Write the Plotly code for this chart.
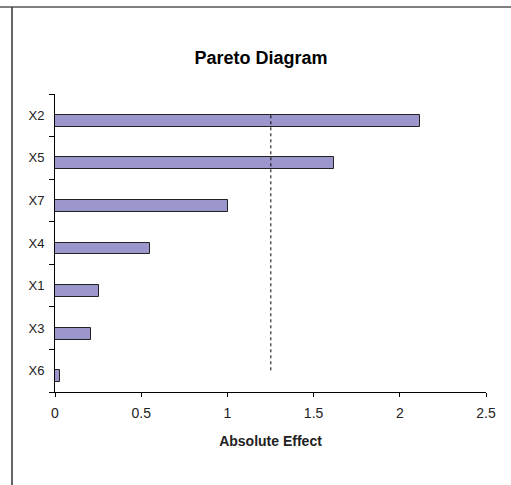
import plotly.graph_objects as go

factors = ["X2", "X5", "X7", "X4", "X1", "X3", "X6"]
effects = [2.118, 1.617, 1.003, 0.551, 0.255, 0.209, 0.027]
cutoff = 1.252
x_ticks = [0, 0.5, 1, 1.5, 2, 2.5]
x_tick_text = ["0", "0.5", "1", "1.5", "2", "2.5"]

order_bottom_up = factors[::-1]

fig = go.Figure()
fig.add_trace(go.Bar(
    y=factors, x=effects, orientation="h",
    marker=dict(color="#9b96cb", line=dict(color="#222222", width=1)),
    width=0.28, offset=-0.27, showlegend=False, hoverinfo="x+y",
))
fig.add_trace(go.Scatter(
    y=[factors[0], factors[-1]], x=[cutoff, cutoff], mode="lines",
    line=dict(color="black", width=1, dash="3px,3px"), showlegend=False,
))

font = "Liberation Sans, Arial, sans-serif"
W, H = 511, 485
L, R, T, B = 55, 25, 94, 93
pw, ph = W - L - R, H - T - B
fig.update_layout(
    width=W, height=H,
    margin=dict(l=L, r=R, t=T, b=B, autoexpand=False),
    paper_bgcolor="white", plot_bgcolor="white",
    title=dict(text="<b>Pareto Diagram</b>", x=261 / W, xanchor="center",
               y=1 - 58 / H, yanchor="middle",
               font=dict(family=font, size=18, color="black")),
    font=dict(family=font, size=13, color="#222222"),
    bargap=0,
    xaxis=dict(range=[0, 2.5], tickvals=x_ticks, ticktext=x_tick_text,
               showgrid=False, zeroline=False, showline=True, linecolor="black",
               linewidth=1, ticks="outside", ticklen=4, tickcolor="black",
               tickfont=dict(size=14), ticklabelstandoff=4,
               automargin=False,
               title=dict(text="<b>Absolute Effect</b>", standoff=16,
                          font=dict(family=font, size=14, color="#222222"))),
    yaxis=dict(type="category", categoryorder="array", categoryarray=order_bottom_up,
               range=[-0.5, 6.5], showgrid=False, zeroline=False, showline=True,
               linecolor="black", linewidth=1, ticks="outside", ticklen=5,
               tickcolor="black", tickson="boundaries", ticklabelstandoff=7,
               automargin=False),
    shapes=[
        dict(type="line", xref="paper", yref="paper",
             x0=-L / pw, x1=2, y0=1 + (T - 7) / ph, y1=1 + (T - 7) / ph,
             line=dict(color="#808080", width=2)),
        dict(type="line", xref="paper", yref="paper",
             x0=-(L - 12) / pw, x1=-(L - 12) / pw, y0=-2, y1=1 + (T - 7) / ph,
             line=dict(color="#333333", width=1.5)),
    ],
)

fig.write_html("out.html", config={"displayModeBar": False},
               post_script="document.body.style.margin='0';")
